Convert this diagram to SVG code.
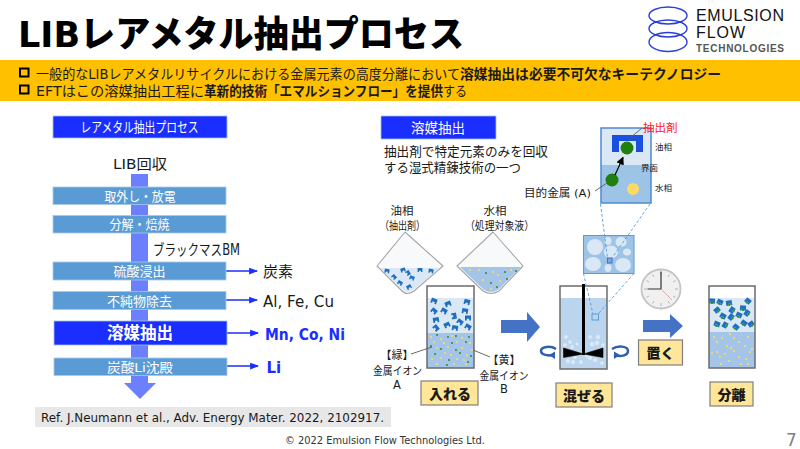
<svg xmlns="http://www.w3.org/2000/svg" width="800" height="449" viewBox="0 0 800 449">
<style>
text{font-family:"DejaVu Sans","Noto Sans CJK JP",sans-serif;fill:#1a1a1a}
.b{font-weight:700}
.h{font-weight:900}
.w{fill:#fff;text-anchor:middle}
.c{text-anchor:middle}
.step{fill:#5b9bd5;stroke:#a9c8ea;stroke-width:.8}
.hdr{fill:#1a2eff;stroke:#9dc3e6;stroke-width:.8}
.act{fill:#ffe699;stroke:#7f7f7f;stroke-width:1.2}
.bk{fill:none;stroke:#6b6b6b;stroke-width:1.5}
.oil{fill:#dae8f6}
.wat{fill:#a4c4e8}
.fl{fill:#f7f9fb;stroke:#a6a6a6;stroke-width:1.1;stroke-linejoin:round}
.dash{fill:none;stroke:#5b9bd5;stroke-width:.9;stroke-dasharray:3 2}
.line{stroke:#1a2eff;stroke-width:1.5;fill:none;marker-end:url(#ah)}
.lead{stroke:#595959;stroke-width:.9;fill:none}
.big{fill:#4472c4}
.ring{fill:none;stroke:#2a3fd6;stroke-width:1.4}
.bub{fill:#dbe8f5;stroke:#e8f0f8;stroke-width:.5}
.sq{fill:none;stroke:#000;stroke-width:2}
</style>
<defs>
<marker id="ah" viewBox="0 0 8 6" refX="7" refY="3" markerWidth="6" markerHeight="5" markerUnits="strokeWidth" orient="auto"><path d="M0,0L8,3L0,6z" fill="#1a2eff"/></marker>
<marker id="bh" viewBox="0 0 8 8" refX="7" refY="4" markerWidth="8" markerHeight="8" markerUnits="userSpaceOnUse" orient="auto"><path d="M0,0L8,4L0,8z" fill="#000"/></marker>
<path id="e" d="M-3,-2.500H3V2.500H1.200V.8H-1.200V2.500H-3z" fill="#1f6fc0"/>
<circle id="g" r="1" fill="#2e8b2e"/>
<circle id="y" r="1.100" fill="#ffd966"/>
<g id="eg"><path d="M-3,-2.500H3V2.500H1.200V.8H-1.200V2.500H-3z" fill="#1f6fc0"/><circle cy="1.800" r="1.300" fill="#2e8b2e"/></g>
</defs>
<rect width="800" height="449" fill="#fff"/>

<g id="title"><text x="18" y="47" class="h" font-size="36" style="fill:#000" textLength="446" lengthAdjust="spacingAndGlyphs">LIBレアメタル抽出プロセス</text></g>

<g id="logo">
<ellipse class="ring" cx="668" cy="15.500" rx="19" ry="8.500"/>
<ellipse class="ring" cx="668" cy="28.500" rx="19" ry="8.500"/>
<ellipse class="ring" cx="668" cy="42" rx="19" ry="9.500"/>
<text x="696" y="21" font-size="16" textLength="88" style="font-family:'Liberation Sans',sans-serif;fill:#111">EMULSION</text>
<text x="696" y="38" font-size="16" textLength="49" style="font-family:'Liberation Sans',sans-serif;fill:#111">FLOW</text>
<text x="696" y="52" font-size="10" font-weight="700" textLength="88" style="font-family:'Liberation Sans',sans-serif;fill:#555">TECHNOLOGIES</text>
</g>

<g id="banner">
<rect x="0" y="60" width="800" height="41" fill="#ffc000"/>
<rect class="sq" x="20" y="68.500" width="8.500" height="8"/>
<rect class="sq" x="20" y="85.500" width="8.500" height="8"/>
<text x="36" y="78.500" font-size="13.500" textLength="424" lengthAdjust="spacingAndGlyphs">一般的なLIBレアメタルリサイクルにおける金属元素の高度分離において</text>
<text x="460" y="78.500" class="b" font-size="13.500" textLength="261" lengthAdjust="spacingAndGlyphs">溶媒抽出は必要不可欠なキーテクノロジー</text>
<text x="36" y="95.500" font-size="13.500" textLength="168" lengthAdjust="spacingAndGlyphs">EFTはこの溶媒抽出工程に</text>
<text x="204" y="95.500" class="b" font-size="13.500" textLength="239" lengthAdjust="spacingAndGlyphs">革新的技術「エマルションフロー」を提供</text>
<text x="443" y="95.500" font-size="13.500" textLength="24" lengthAdjust="spacingAndGlyphs">する</text>
</g>

<g id="process-header"><rect class="hdr" x="53" y="116" width="174" height="22"/><text x="139.500" y="132" class="w" font-size="14" textLength="118" lengthAdjust="spacingAndGlyphs">レアメタル抽出プロセス</text></g>
<g id="lib"><text x="140" y="169" class="c" font-size="14" textLength="54" lengthAdjust="spacingAndGlyphs">LIB回収</text></g>

<g id="connectors">
<path d="M131,174H148V383H156L140,399L124,383H131z" fill="#6b7fff"/>
<path class="line" d="M226,271H257"/>
<path class="line" d="M226,300H257"/>
<path class="line" d="M227,333H258"/>
<path class="line" d="M226,366H258"/>
</g>

<g id="step1"><rect class="step" x="53" y="187" width="173" height="17.500"/><text x="140" y="201" class="w" font-size="13" textLength="71" lengthAdjust="spacingAndGlyphs">取外し・放電</text></g>
<g id="step2"><rect class="step" x="53" y="215.500" width="173" height="17.500"/><text x="139.500" y="229" class="w" font-size="13" textLength="60" lengthAdjust="spacingAndGlyphs">分解・焙焼</text></g>
<g id="bm"><text x="153" y="255" font-size="15" textLength="87" lengthAdjust="spacingAndGlyphs">ブラックマスBM</text></g>
<g id="step3"><rect class="step" x="53" y="262" width="173" height="18"/><text x="139.500" y="276" class="w" font-size="13">硫酸浸出</text></g>
<g id="step4"><rect class="step" x="53" y="291.500" width="173" height="18"/><text x="139.500" y="306" class="w" font-size="13">不純物除去</text></g>
<g id="step5"><rect x="54" y="321" width="173" height="24" fill="#1a2eff" stroke="#9dc3e6" stroke-width=".8"/><text x="140" y="339" class="w b" font-size="16.500">溶媒抽出</text></g>
<g id="step6"><rect class="step" x="54" y="358" width="173" height="17.500"/><text x="140" y="372" class="w" font-size="13" textLength="66" lengthAdjust="spacingAndGlyphs">炭酸Li沈殿</text></g>

<g id="out1"><text x="263" y="277" font-size="15">炭素</text></g>
<g id="out2"><text x="263" y="307" font-size="15" textLength="71" lengthAdjust="spacingAndGlyphs">Al, Fe, Cu</text></g>
<g id="out3"><text x="265" y="340" class="b" font-size="15" style="fill:#1a2eff" textLength="80" lengthAdjust="spacingAndGlyphs">Mn, Co, Ni</text></g>
<g id="out4"><text x="266.500" y="373" class="b" font-size="15" style="fill:#1a2eff">Li</text></g>

<g id="ref"><rect x="35" y="407" width="356" height="20" fill="#e7e7e7"/><text x="41" y="422" font-size="11.500" textLength="343" lengthAdjust="spacingAndGlyphs">Ref. J.Neumann et al., Adv. Energy Mater. 2022, 2102917.</text></g>
<g id="copyright"><text x="285" y="444" font-size="10.500" textLength="200" lengthAdjust="spacingAndGlyphs" style="fill:#333">© 2022 Emulsion Flow Technologies Ltd.</text></g>
<g id="page"><text x="786" y="446" font-size="17" style="fill:#7f7f7f">7</text></g>

<g id="solvent-header"><rect class="hdr" x="381" y="116" width="115" height="23"/><text x="438" y="133" class="w" font-size="13.500">溶媒抽出</text></g>
<g id="desc"><text x="384" y="155.500" font-size="13" textLength="164" lengthAdjust="spacingAndGlyphs">抽出剤で特定元素のみを回収</text><text x="384" y="172" font-size="13" textLength="137" lengthAdjust="spacingAndGlyphs">する湿式精錬技術の一つ</text></g>

<g id="flask-oil">
<text x="402" y="215" class="c" font-size="11.500">油相</text>
<text x="402.500" y="230" class="c" font-size="11.500" textLength="45" lengthAdjust="spacingAndGlyphs">（抽出剤）</text>
<path class="fl" d="M405,232L443,266L414,291Q407,296 402,291L377,266z"/>
<path d="M380,268H440L413,290Q407,294 403,290z" fill="#dae8f6"/>
<use href="#e" transform="translate(387,271) rotate(10) scale(.8)"/><use href="#e" transform="translate(394,277) rotate(50) scale(.8)"/><use href="#e" transform="translate(403,270) rotate(-20) scale(.8)"/><use href="#e" transform="translate(408,273) rotate(60) scale(.8)"/><use href="#e" transform="translate(420,270) rotate(0) scale(.8)"/><use href="#e" transform="translate(412,278) rotate(20) scale(.8)"/><use href="#e" transform="translate(400,283) rotate(30) scale(.8)"/><use href="#e" transform="translate(409,287) rotate(-30) scale(.8)"/><use href="#e" transform="translate(431,271) rotate(10) scale(.8)"/>
</g>
<g id="flask-water">
<text x="495" y="215" class="c" font-size="11.500">水相</text>
<text x="499.500" y="230" class="c" font-size="11.500" textLength="69" lengthAdjust="spacingAndGlyphs">（処理対象液）</text>
<path class="fl" d="M493,232L457,266L483,291Q491,296 499,291L523,266z"/>
<path d="M460,267H521L498,290Q491,294 484,290z" fill="#a4c4e8"/>
<use href="#y" x="479" y="270"/><use href="#g" x="486" y="273"/><use href="#y" x="493" y="272"/><use href="#y" x="498" y="275"/><use href="#g" x="505" y="272"/><use href="#y" x="511" y="270"/><use href="#g" x="516" y="271"/><use href="#y" x="483" y="280"/><use href="#g" x="491" y="283"/><use href="#y" x="500" y="281"/><use href="#g" x="507" y="279"/><use href="#y" x="491" y="289"/><use href="#g" x="497" y="287"/><use href="#y" x="470" y="270"/>
</g>

<g id="beaker1">
<rect class="oil" x="427" y="298" width="47" height="35"/><rect class="wat" x="427" y="333" width="47" height="35"/>
<use href="#e" transform="translate(434,301) rotate(20)"/><use href="#e" transform="translate(448,304) rotate(-20)"/><use href="#e" transform="translate(467,302) rotate(15)"/><use href="#e" transform="translate(434,311) rotate(40)"/><use href="#e" transform="translate(444,311) rotate(30)"/><use href="#e" transform="translate(465,311) rotate(10)"/><use href="#e" transform="translate(436,320) rotate(-10)"/><use href="#e" transform="translate(454,316) rotate(80)"/><use href="#e" transform="translate(460,322) rotate(35)"/><use href="#e" transform="translate(468,318) rotate(0)"/><use href="#e" transform="translate(447,325) rotate(-25)"/><use href="#e" transform="translate(436,328) rotate(50)"/><use href="#e" transform="translate(455,328) rotate(10)"/><use href="#e" transform="translate(468,327) rotate(30)"/>
<use href="#g" x="437" y="335"/><use href="#y" x="431" y="337"/><use href="#y" x="441" y="339"/><use href="#g" x="448" y="337"/><use href="#y" x="452" y="336"/><use href="#g" x="456" y="336"/><use href="#y" x="462" y="338"/><use href="#g" x="469" y="337"/><use href="#y" x="434" y="342"/><use href="#g" x="431" y="346"/><use href="#y" x="444" y="343"/><use href="#g" x="452" y="343"/><use href="#y" x="457" y="342"/><use href="#g" x="466" y="342"/><use href="#y" x="470" y="343"/><use href="#y" x="437" y="348"/><use href="#g" x="441" y="349"/><use href="#y" x="448" y="347"/><use href="#g" x="456" y="350"/><use href="#y" x="462" y="348"/><use href="#y" x="472" y="350"/><use href="#g" x="435" y="354"/><use href="#y" x="445" y="353"/><use href="#y" x="451" y="355"/><use href="#g" x="460" y="353"/><use href="#y" x="467" y="355"/><use href="#g" x="471" y="356"/><use href="#y" x="432" y="359"/><use href="#y" x="441" y="358"/><use href="#g" x="449" y="360"/><use href="#y" x="457" y="359"/><use href="#y" x="464" y="360"/><use href="#g" x="468" y="362"/><use href="#y" x="437" y="364"/><use href="#g" x="447" y="365"/><use href="#y" x="454" y="364"/><use href="#y" x="466" y="364"/>
<rect class="bk" x="427" y="286" width="47" height="82"/>
</g>
<g id="label-a"><text x="397" y="359" class="c" font-size="11">【緑】</text><text x="397.500" y="375" class="c" font-size="11" textLength="49" lengthAdjust="spacingAndGlyphs">金属イオン</text><text x="397" y="389" class="c" font-size="11.500">A</text><path class="lead" d="M411,354L432,347"/></g>
<g id="label-b"><text x="504" y="364" class="c" font-size="11">【黄】</text><text x="504" y="380" class="c" font-size="11" textLength="49" lengthAdjust="spacingAndGlyphs">金属イオン</text><text x="504" y="393" class="c" font-size="11.500">B</text><path class="lead" d="M473,350L490,357"/></g>
<g id="act1"><rect class="act" x="421" y="381" width="57" height="24"/><text x="450" y="399" class="c h" font-size="14">入れる</text></g>

<path class="big" id="arrow1" d="M501,320H527V312L540,327L527,342V333H501z"/>

<g id="beaker2">
<rect x="560" y="298" width="47" height="71" fill="#bcd5ee"/>
<circle class="bub" cx="566" cy="337" r="1.500"/><circle class="bub" cx="570" cy="342" r="1.500"/><circle class="bub" cx="565" cy="345" r="1.500"/><circle class="bub" cx="572" cy="347" r="1.500"/><circle class="bub" cx="577" cy="344" r="1.200"/><circle class="bub" cx="592" cy="344" r="1.800"/><circle class="bub" cx="598" cy="337" r="1.800"/><circle class="bub" cx="597" cy="343" r="1.800"/><circle class="bub" cx="603" cy="345" r="1.500"/><circle class="bub" cx="590" cy="337" r="1.500"/><circle class="bub" cx="568" cy="361" r="1.800"/><circle class="bub" cx="573" cy="362" r="1.800"/><circle class="bub" cx="575" cy="357" r="1.400"/><circle class="bub" cx="587" cy="356" r="1.400"/><circle class="bub" cx="590" cy="358" r="1.800"/><circle class="bub" cx="595" cy="360" r="1.800"/><circle class="bub" cx="602" cy="363" r="1.400"/><circle class="bub" cx="581" cy="362" r="1.500"/>
<rect x="592" y="314" width="6.500" height="6" fill="#bcd5ee" stroke="#5b9bd5"/>
<rect class="bk" x="560" y="286" width="47" height="83"/>
<rect x="582" y="284" width="3" height="71" fill="#000"/>
<path d="M563.500,348L583.500,354L603,348V357.500L583.500,354L563.500,357.500z" fill="#000" stroke="#000" stroke-width=".6"/>
<path d="M556,349C550,345 541,347 541,351C541,355 548,356 555,355" fill="none" stroke="#2f5fae" stroke-width="2.500"/><path d="M555,351.500V359L549,355z" fill="#2f5fae"/>
<path d="M612,349C618,345 628,346 628,351C628,356 620,357 614,355" fill="none" stroke="#2f5fae" stroke-width="2.500"/><path d="M614,351.500V359L620,355z" fill="#2f5fae"/>
</g>
<g id="act2"><rect class="act" x="556" y="383" width="56" height="24"/><text x="584" y="401" class="c h" font-size="14">混ぜる</text></g>

<g id="emulsion">
<rect x="583.500" y="235.500" width="50.500" height="38" fill="#9dc3e6" stroke="#5b9bd5"/>
<g fill="#dae8f6"><ellipse cx="595" cy="247" rx="8" ry="8"/><ellipse cx="608" cy="241" rx="3.500" ry="4"/><ellipse cx="621" cy="242" rx="5.500" ry="5"/><ellipse cx="627" cy="252" rx="4" ry="3.500"/><ellipse cx="611" cy="252" rx="7" ry="6.500"/><ellipse cx="623" cy="265" rx="8" ry="7"/><ellipse cx="593" cy="264" rx="8" ry="7"/><ellipse cx="608" cy="268" rx="3.500" ry="4"/></g>
<rect x="607.500" y="258" width="4.500" height="5" fill="#7aa9dc" stroke="#4472c4"/>
<path class="dash" d="M583.500,273.500L593,314M634,273.500L598,314M600.500,204L607.500,258M650,204L612,258"/>
</g>

<g id="inset">
<rect x="601" y="128" width="50" height="37" fill="#dae8f6"/><rect x="601" y="165" width="50" height="38" fill="#9dc3e6"/>
<rect x="601" y="128" width="50" height="75" fill="none" stroke="#4d8bd0" stroke-width="1.500"/>
<path d="M612,135H643V152H636V141H619V152H612z" fill="#1a50e0"/>
<circle cx="627" cy="148" r="6.500" fill="#1f7f0f"/><circle cx="612" cy="180" r="6.500" fill="#1f7f0f"/><circle cx="633" cy="189" r="6" fill="#ffd966"/>
<path d="M615,175L623,157.500" stroke="#000" stroke-width="1.200" marker-end="url(#bh)" fill="none"/>
<path class="lead" d="M630,138L642,128"/>
<path class="lead" d="M595,191L607,183"/>
<text x="643" y="132" font-size="11.500" style="fill:#ff2020">抽出剤</text>
<text x="655" y="150" font-size="8.500">油相</text>
<text x="641" y="171" font-size="8.500">界面</text>
<text x="655" y="191" font-size="8.500">水相</text>
<text x="524" y="197" font-size="11" textLength="67" lengthAdjust="spacingAndGlyphs">目的金属 (A)</text>
</g>

<g id="clock">
<circle cx="661" cy="289" r="19.500" fill="#f0f0f0" stroke="#c4c4c4" stroke-width="1.800"/>
<path d="M661,272v3M661,303v3M644,289h3M675,289h3M652.500,274.500l1.500,2.500M669.500,274.500l-1.500,2.500M652.500,303.500l1.500,-2.500M669.500,303.500l-1.500,-2.500M646.500,280.500l2.500,1.500M675.500,280.500l-2.500,1.500M646.500,297.500l2.500,-1.500M675.500,297.500l-2.500,-1.500" stroke="#999" stroke-width=".7"/>
<path d="M661,289V271.500M661,289H647.500" stroke="#333" stroke-width="1.200"/>
<path d="M661,289L672,300" stroke="#d09090" stroke-width=".7"/>
</g>
<path class="big" id="arrow2" d="M643,320H670V314L683,326L670,338V332H643z"/>
<g id="act3"><rect class="act" x="638.500" y="340" width="44" height="25"/><text x="660.500" y="358" class="c h" font-size="14">置く</text></g>

<g id="beaker3">
<rect class="oil" x="709" y="298" width="46" height="34"/><rect class="wat" x="709" y="332" width="46" height="36"/>
<use href="#eg" transform="translate(712,301) rotate(5)"/><use href="#eg" transform="translate(720,302) rotate(25)"/><use href="#eg" transform="translate(729,303) rotate(-10)"/><use href="#eg" transform="translate(748,301) rotate(40)"/><use href="#eg" transform="translate(717,310) rotate(-40)"/><use href="#eg" transform="translate(732,310) rotate(-55)"/><use href="#eg" transform="translate(743,308) rotate(5)"/><use href="#eg" transform="translate(723,316) rotate(30)"/><use href="#eg" transform="translate(731,317) rotate(-50)"/><use href="#eg" transform="translate(739,315) rotate(25)"/><use href="#eg" transform="translate(747,313) rotate(-55)"/><use href="#eg" transform="translate(717,324) rotate(20)"/><use href="#eg" transform="translate(725,325) rotate(-60)"/><use href="#eg" transform="translate(736,327) rotate(40)"/><use href="#eg" transform="translate(744,323) rotate(35)"/><use href="#eg" transform="translate(751,324) rotate(-35)"/>
<use href="#y" x="714" y="337"/><use href="#y" x="722" y="338"/><use href="#y" x="730" y="334"/><use href="#y" x="734" y="338"/><use href="#y" x="748" y="337"/><use href="#y" x="717" y="342"/><use href="#y" x="727" y="346"/><use href="#y" x="731" y="348"/><use href="#y" x="739" y="342"/><use href="#y" x="745" y="346"/><use href="#y" x="752" y="349"/><use href="#y" x="712" y="353"/><use href="#y" x="717" y="352"/><use href="#y" x="725" y="354"/><use href="#y" x="734" y="351"/><use href="#y" x="739" y="357"/><use href="#y" x="750" y="352"/><use href="#y" x="720" y="357"/><use href="#y" x="729" y="361"/><use href="#y" x="746" y="359"/><use href="#y" x="721" y="364"/><use href="#y" x="741" y="364"/><use href="#y" x="748" y="364"/>
<rect class="bk" x="709" y="286" width="46" height="82"/>
</g>
<g id="act4"><rect class="act" x="710" y="382" width="43" height="24"/><text x="731.500" y="400" class="c h" font-size="14">分離</text></g>
</svg>
